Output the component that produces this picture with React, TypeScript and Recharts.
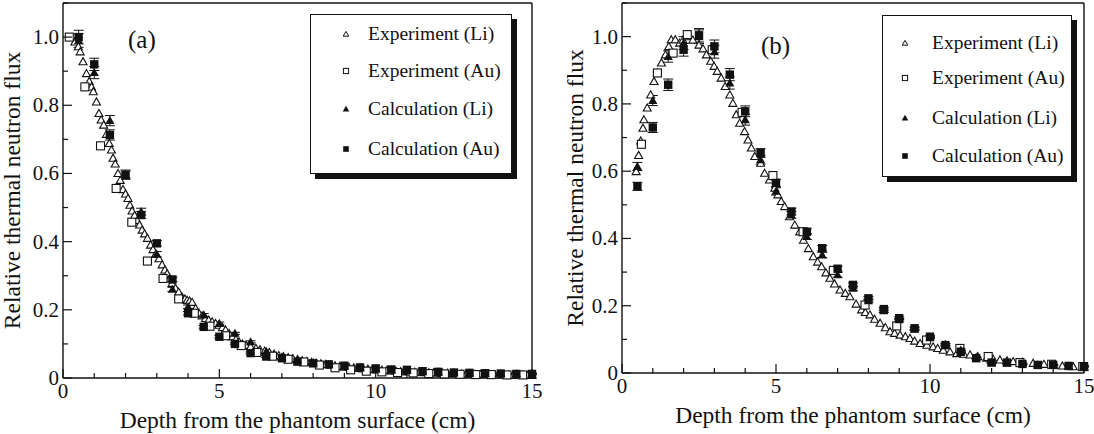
import { ScatterChart, Scatter, XAxis, YAxis, ErrorBar, Legend } from 'recharts';

// depth grid of the calculation points (cm)
const calcDepth = [0.5, 1, 1.5, 2, 2.5, 3, 3.5, 4, 4.5, 5, 5.5, 6, 6.5, 7, 7.5, 8, 8.5, 9, 9.5, 10, 10.5, 11, 11.5, 12, 12.5, 13, 13.5, 14, 14.5, 15];

// (a)
const aCalcAu = [1.0, 0.92, 0.713, 0.595, 0.478, 0.395, 0.289, 0.19, 0.15, 0.121, 0.1, 0.073, 0.063, 0.058, 0.048, 0.043, 0.04, 0.036, 0.031, 0.028, 0.025, 0.024, 0.02, 0.018, 0.016, 0.015, 0.014, 0.013, 0.012, 0.012];
const aCalcLi = [0.99, 0.896, 0.755, 0.598, 0.488, 0.363, 0.26, 0.209, 0.185, 0.16, 0.131, 0.106, 0.078, 0.062, 0.053, 0.045, 0.04, 0.035, 0.031, 0.027, 0.024, 0.022, 0.02, 0.018, 0.016, 0.015, 0.014, 0.013, 0.012, 0.012];
const aCalcErr = [0.02, 0.018, 0.015, 0.012, 0.01, 0.008, 0.006, 0.005, 0.004, 0.004, 0.003, 0.003, 0.003, 0.002, 0.002, 0.002, 0.002, 0.002, 0.002, 0.002, 0.002, 0.002, 0.002, 0.002, 0.002, 0.002, 0.002, 0.002, 0.002, 0.002];
const aExpLiDepth = [0.38, 0.49, 0.55, 0.64, 0.75, 0.84, 0.91, 0.97, 1.07, 1.15, 1.22, 1.3, 1.39, 1.48, 1.55, 1.6, 1.67, 1.76, 1.83, 1.92, 2.0, 2.08, 2.14, 2.21, 2.29, 2.37, 2.45, 2.53, 2.61, 2.7, 2.8, 2.88, 2.97, 3.07, 3.17, 3.26, 3.33, 3.41, 3.49, 3.6, 3.7, 3.8, 3.9, 3.97, 4.05, 4.13, 4.24, 4.35, 4.45, 4.56, 4.66, 4.77, 4.88, 4.99, 5.1, 5.2, 5.31, 5.42, 5.53, 5.63, 5.74, 5.85, 6.0, 6.17, 6.3, 6.45, 6.6, 6.75, 6.9, 7.05, 7.2, 7.35, 7.5, 7.65, 7.8, 7.95, 8.1, 8.25, 8.4, 8.55, 8.7, 8.85, 9.0, 9.15, 9.3, 9.45, 9.6, 9.75, 9.9, 10.05, 10.2, 10.35, 10.5, 10.65, 10.8, 10.95, 11.1, 11.25, 11.4, 11.55, 11.7, 11.85, 12.0, 12.15, 12.3, 12.45, 12.6, 12.75, 12.9, 13.05, 13.2, 13.35, 13.5, 13.65, 13.8, 13.95, 14.1, 14.25, 14.4, 14.55, 14.7, 14.85, 15.0];
const aExpLi = [0.986, 0.972, 0.957, 0.928, 0.893, 0.87, 0.854, 0.84, 0.81, 0.776, 0.757, 0.742, 0.715, 0.688, 0.669, 0.645, 0.628, 0.6, 0.58, 0.553, 0.54, 0.527, 0.507, 0.49, 0.477, 0.462, 0.449, 0.434, 0.423, 0.41, 0.39, 0.377, 0.364, 0.35, 0.332, 0.317, 0.306, 0.292, 0.278, 0.263, 0.252, 0.238, 0.232, 0.228, 0.226, 0.222, 0.204, 0.19, 0.182, 0.175, 0.17, 0.165, 0.16, 0.155, 0.148, 0.141, 0.131, 0.121, 0.113, 0.106, 0.1, 0.096, 0.092, 0.087, 0.083, 0.079, 0.075, 0.07, 0.066, 0.063, 0.06, 0.057, 0.054, 0.051, 0.048, 0.046, 0.044, 0.042, 0.04, 0.038, 0.036, 0.034, 0.032, 0.031, 0.03, 0.028, 0.027, 0.026, 0.025, 0.024, 0.023, 0.022, 0.021, 0.02, 0.019, 0.019, 0.018, 0.017, 0.017, 0.016, 0.016, 0.015, 0.015, 0.014, 0.014, 0.013, 0.013, 0.012, 0.012, 0.012, 0.011, 0.011, 0.011, 0.01, 0.01, 0.01, 0.01, 0.009, 0.009, 0.009, 0.009, 0.008, 0.008];
const aExpAuDepth = [0.2, 0.7, 1.2, 1.7, 2.2, 2.7, 3.2, 3.7, 4.2, 4.7, 5.2, 5.7, 6.2, 6.7, 7.2, 7.7, 8.2, 8.7, 9.2, 9.7, 10.2, 10.7, 11.2, 11.7, 12.2, 12.7, 13.2, 13.7, 14.2, 14.7];
const aExpAu = [1.0, 0.854, 0.681, 0.556, 0.457, 0.343, 0.292, 0.232, 0.19, 0.152, 0.124, 0.095, 0.075, 0.064, 0.055, 0.047, 0.038, 0.03, 0.024, 0.02, 0.018, 0.016, 0.015, 0.013, 0.012, 0.011, 0.01, 0.01, 0.009, 0.009];

// (b)
const bCalcAu = [0.555, 0.73, 0.857, 0.961, 1.004, 0.971, 0.887, 0.778, 0.654, 0.565, 0.48, 0.42, 0.371, 0.31, 0.262, 0.222, 0.19, 0.163, 0.133, 0.108, 0.083, 0.063, 0.044, 0.031, 0.031, 0.027, 0.024, 0.024, 0.021, 0.02];
const bCalcLi = [0.614, 0.81, 0.941, 0.981, 1.0, 0.955, 0.862, 0.753, 0.634, 0.54, 0.47, 0.406, 0.351, 0.292, 0.252, 0.215, 0.185, 0.158, 0.13, 0.105, 0.085, 0.068, 0.047, 0.032, 0.03, 0.027, 0.024, 0.023, 0.021, 0.02];
const bCalcErr = [0.012, 0.015, 0.017, 0.019, 0.02, 0.019, 0.018, 0.016, 0.013, 0.011, 0.01, 0.009, 0.008, 0.007, 0.006, 0.005, 0.005, 0.004, 0.004, 0.003, 0.003, 0.003, 0.002, 0.002, 0.002, 0.002, 0.002, 0.002, 0.002, 0.002];
const bExpLiDepth = [0.46, 0.54, 0.61, 0.68, 0.71, 0.82, 0.93, 1.04, 1.15, 1.28, 1.41, 1.52, 1.6, 1.73, 1.87, 1.98, 2.1, 2.3, 2.5, 2.63, 2.74, 2.88, 2.99, 3.09, 3.22, 3.35, 3.5, 3.6, 3.71, 3.82, 3.98, 4.09, 4.2, 4.31, 4.5, 4.63, 4.79, 4.96, 5.06, 5.17, 5.28, 5.44, 5.61, 5.77, 5.89, 6.05, 6.21, 6.35, 6.48, 6.62, 6.75, 6.9, 7.08, 7.25, 7.4, 7.6, 7.78, 7.9, 8.05, 8.2, 8.38, 8.55, 8.7, 8.85, 9.03, 9.2, 9.35, 9.5, 9.68, 9.9, 10.1, 10.25, 10.43, 10.65, 10.87, 11.1, 11.3, 11.55, 11.84, 12.05, 12.27, 12.5, 12.7, 13.0, 13.35, 13.7, 14.0, 14.3, 14.65, 15.0];
const bExpLi = [0.599, 0.647, 0.69, 0.728, 0.753, 0.788, 0.827, 0.867, 0.892, 0.922, 0.946, 0.971, 0.991, 0.991, 0.981, 0.99, 1.0, 0.99, 0.975, 0.964, 0.946, 0.927, 0.912, 0.897, 0.877, 0.852, 0.827, 0.802, 0.768, 0.743, 0.718, 0.693, 0.669, 0.644, 0.624, 0.594, 0.574, 0.55, 0.53, 0.51, 0.495, 0.465, 0.44, 0.42, 0.395, 0.37, 0.346, 0.33, 0.316, 0.298, 0.282, 0.265, 0.247, 0.237, 0.227, 0.205, 0.188, 0.18, 0.173, 0.16, 0.148, 0.135, 0.123, 0.118, 0.113, 0.108, 0.103, 0.095, 0.088, 0.083, 0.078, 0.073, 0.068, 0.063, 0.058, 0.056, 0.054, 0.049, 0.044, 0.041, 0.039, 0.036, 0.034, 0.032, 0.029, 0.026, 0.024, 0.021, 0.019, 0.017];
const bExpAuDepth = [0.63, 1.15, 1.66, 2.12, 2.93, 3.9, 4.9, 5.88, 6.86, 7.89, 8.92, 9.89, 10.97, 11.89, 12.92, 13.95, 14.96];
const bExpAu = [0.68, 0.892, 0.951, 1.006, 0.961, 0.775, 0.587, 0.42, 0.305, 0.202, 0.14, 0.098, 0.073, 0.049, 0.031, 0.026, 0.019];

const xTicks = [0, 1, 2, 3, 4, 5, 6, 7, 8, 9, 10, 11, 12, 13, 14, 15];
const xTickLabels = ['0', '', '', '', '', '5', '', '', '', '', '10', '', '', '', '', '15'];
const yTicks = [0, 0.1, 0.2, 0.3, 0.4, 0.5, 0.6, 0.7, 0.8, 0.9, 1.0, 1.1];
const yTickLabels = ['0', '', '0.2', '', '0.4', '', '0.6', '', '0.8', '', '1.0', ''];

const seriesNames = ['Experiment (Li)', 'Experiment (Au)', 'Calculation (Li)', 'Calculation (Au)'];

const FONT = '"Liberation Serif"';
const INK = '#111';

const pts = (xs: number[], ys: number[], errs?: number[]) =>
  xs.map((x, i) => ({ x, y: ys[i], err: errs ? errs[i] : 0 }));

const openTri = (p: any) => (
  <path d={`M${p.cx},${p.cy - 4}L${p.cx + 4},${p.cy + 3.1}L${p.cx - 4},${p.cy + 3.1}Z`} fill="#fff" stroke={INK} strokeWidth={1.1} />
);
const openSq = (p: any) => (
  <rect x={p.cx - 4} y={p.cy - 4} width={8} height={8} fill="#fff" stroke={INK} strokeWidth={1.1} />
);
const fillTri = (p: any) => (
  <path d={`M${p.cx},${p.cy - 4.6}L${p.cx + 4.6},${p.cy + 3.5}L${p.cx - 4.6},${p.cy + 3.5}Z`} fill={INK} />
);
const fillSq = (p: any) => (
  <rect x={p.cx - 4.2} y={p.cy - 4.2} width={8.4} height={8.4} fill={INK} />
);

const legendMarks: Record<string, (cx: number, cy: number) => any> = {
  'Experiment (Li)': (cx, cy) => <path d={`M${cx},${cy - 2.6}L${cx + 2.8},${cy + 2.2}L${cx - 2.8},${cy + 2.2}Z`} fill="#fff" stroke={INK} strokeWidth={1} />,
  'Experiment (Au)': (cx, cy) => <rect x={cx - 2.6} y={cy - 2.6} width={5.2} height={5.2} fill="#fff" stroke={INK} strokeWidth={1} />,
  'Calculation (Li)': (cx, cy) => <path d={`M${cx},${cy - 3.2}L${cx + 3.3},${cy + 2.6}L${cx - 3.3},${cy + 2.6}Z`} fill={INK} />,
  'Calculation (Au)': (cx, cy) => <rect x={cx - 2.8} y={cy - 2.8} width={5.6} height={5.6} fill={INK} />
};

const MAJOR = 9;
const MINOR = 5;
const txt = { fontFamily: FONT };

const BottomTick = (p: any) => {
  const i = xTicks.indexOf(p.payload.value);
  const label = xTickLabels[i];
  return (
    <g>
      <line x1={p.x} x2={p.x} y1={p.y} y2={p.y - (label ? MAJOR : MINOR)} stroke={INK} strokeWidth={1.2} />
      {label && (
        <text x={p.x} y={p.y + 20} textAnchor="middle" fontSize={21} style={txt} fill={INK}>{label}</text>
      )}
    </g>
  );
};
const TopTick = (p: any) => {
  const i = xTicks.indexOf(p.payload.value);
  return <line x1={p.x} x2={p.x} y1={p.y} y2={p.y + (xTickLabels[i] ? MAJOR : MINOR)} stroke={INK} strokeWidth={1.2} />;
};
const LeftTick = (p: any) => {
  const i = yTicks.indexOf(p.payload.value);
  const label = yTickLabels[i];
  return (
    <g>
      <line x1={p.x} x2={p.x + (label ? MAJOR : MINOR)} y1={p.y} y2={p.y} stroke={INK} strokeWidth={1.2} />
      {label && (
        <text x={p.x - 4} y={p.y + 7} textAnchor="end" fontSize={21} style={txt} fill={INK}>{label}</text>
      )}
    </g>
  );
};
const RightTick = (p: any) => {
  const i = yTicks.indexOf(p.payload.value);
  return <line x1={p.x} x2={p.x - (yTickLabels[i] ? MAJOR : MINOR)} y1={p.y} y2={p.y} stroke={INK} strokeWidth={1.2} />;
};

type LegendBox = { left: number; top: number; width: number; height: number; rows: number[]; markX: number; textX: number };

function Panel(props: {
  tag: string;
  tagPos: { left: number; top: number };
  plot: { left: number; right: number; bottom: number };
  legend: LegendBox;
  titleY: number;
  yTitleX: number;
  expLi: any[];
  expAu: any[];
  calcLi: any[];
  calcAu: any[];
}) {
  const { plot, legend } = props;
  const axisLine = { stroke: INK, strokeWidth: 1.4 };
  return (
    <div style={{ position: 'relative', width: 547, height: 434 }}>
      <ScatterChart width={547} height={434} margin={{ top: 0, right: 0, bottom: 0, left: 0 }}>
        <XAxis
          type="number"
          dataKey="x"
          domain={[0, 15]}
          ticks={xTicks}
          interval={0}
          height={434 - plot.bottom}
          axisLine={axisLine}
          tickLine={false}
          tickSize={0}
          tickMargin={0}
          tick={BottomTick}
          label={{
            content: (lp: any) => (
              <text x={lp.viewBox.x + lp.viewBox.width / 2} y={props.titleY} textAnchor="middle" fontSize={23.5} style={txt} fill={INK}>
                Depth from the phantom surface (cm)
              </text>
            )
          }}
        />
        <XAxis
          xAxisId="top"
          orientation="top"
          type="number"
          domain={[0, 15]}
          ticks={xTicks}
          interval={0}
          height={3}
          axisLine={axisLine}
          tickLine={false}
          tickSize={0}
          tickMargin={0}
          tick={TopTick}
        />
        <YAxis
          type="number"
          dataKey="y"
          domain={[0, 1.1]}
          ticks={yTicks}
          interval={0}
          width={plot.left}
          axisLine={axisLine}
          tickLine={false}
          tickSize={0}
          tickMargin={0}
          tick={LeftTick}
          label={{
            content: (lp: any) => {
              const cy = lp.viewBox.y + lp.viewBox.height / 2;
              return (
                <text x={props.yTitleX} y={cy} transform={`rotate(-90, ${props.yTitleX}, ${cy})`} textAnchor="middle" fontSize={23.5} style={txt} fill={INK}>
                  Relative thermal neutron flux
                </text>
              );
            }
          }}
        />
        <YAxis
          yAxisId="right"
          orientation="right"
          type="number"
          domain={[0, 1.1]}
          ticks={yTicks}
          interval={0}
          width={547 - plot.right}
          axisLine={axisLine}
          tickLine={false}
          tickSize={0}
          tickMargin={0}
          tick={RightTick}
        />
        <Scatter name={seriesNames[0]} data={props.expLi} shape={openTri} isAnimationActive={false} />
        <Scatter name={seriesNames[1]} data={props.expAu} shape={openSq} isAnimationActive={false} />
        <Scatter name={seriesNames[2]} data={props.calcLi} shape={fillTri} isAnimationActive={false}>
          <ErrorBar dataKey="err" direction="y" width={5} stroke={INK} strokeWidth={1} />
        </Scatter>
        <Scatter name={seriesNames[3]} data={props.calcAu} shape={fillSq} isAnimationActive={false}>
          <ErrorBar dataKey="err" direction="y" width={5} stroke={INK} strokeWidth={1} />
        </Scatter>
        <Legend
          layout="vertical"
          align="center"
          verticalAlign="middle"
          wrapperStyle={{ position: 'absolute', left: legend.left, top: legend.top, width: legend.width, height: legend.height }}
          content={(lp: any) => {
            const entries = [...(lp.payload || [])].sort(
              (a: any, b: any) => seriesNames.indexOf(a.value) - seriesNames.indexOf(b.value)
            );
            return (
              <div
                style={{
                  position: 'relative',
                  width: legend.width,
                  height: legend.height,
                  boxSizing: 'border-box',
                  border: `1px solid ${INK}`,
                  background: '#fff',
                  boxShadow: `5px 5px 0 ${INK}`
                }}
              >
                {entries.map((entry: any, i: number) => (
                  <div key={entry.value} style={{ position: 'absolute', left: 0, top: legend.rows[i] - 12, height: 24, width: '100%' }}>
                    <svg width={12} height={24} style={{ position: 'absolute', left: legend.markX - 6, top: 0 }}>
                      {legendMarks[entry.value](6, 12)}
                    </svg>
                    <span style={{ position: 'absolute', left: legend.textX, top: 0, lineHeight: '24px', fontSize: 19.5, fontFamily: FONT, color: INK, whiteSpace: 'nowrap' }}>
                      {entry.value}
                    </span>
                  </div>
                ))}
              </div>
            );
          }}
        />
      </ScatterChart>
      <div style={{ position: 'absolute', left: props.tagPos.left, top: props.tagPos.top, fontSize: 25, fontFamily: FONT, color: INK, lineHeight: '28px' }}>
        {props.tag}
      </div>
    </div>
  );
}

export default function App() {
  return (
    <div style={{ position: 'absolute', left: 0, top: 0, width: 1094, height: 434, background: '#fff', display: 'flex' }}>
      <Panel
        tag="(a)"
        tagPos={{ left: 128, top: 26 }}
        plot={{ left: 63, right: 532, bottom: 378 }}
        legend={{ left: 310, top: 14, width: 202, height: 160, rows: [19, 56, 94, 134], markX: 35, textX: 57 }}
        titleY={428}
        yTitleX={20}
        expLi={pts(aExpLiDepth, aExpLi)}
        expAu={pts(aExpAuDepth, aExpAu)}
        calcLi={pts(calcDepth, aCalcLi, aCalcErr)}
        calcAu={pts(calcDepth, aCalcAu, aCalcErr)}
      />
      <Panel
        tag="(b)"
        tagPos={{ left: 214, top: 32 }}
        plot={{ left: 75, right: 537, bottom: 373 }}
        legend={{ left: 335, top: 15, width: 190, height: 162, rows: [27, 62, 102, 140], markX: 22, textX: 49 }}
        titleY={423}
        yTitleX={36}
        expLi={pts(bExpLiDepth, bExpLi)}
        expAu={pts(bExpAuDepth, bExpAu)}
        calcLi={pts(calcDepth, bCalcLi, bCalcErr)}
        calcAu={pts(calcDepth, bCalcAu, bCalcErr)}
      />
    </div>
  );
}
